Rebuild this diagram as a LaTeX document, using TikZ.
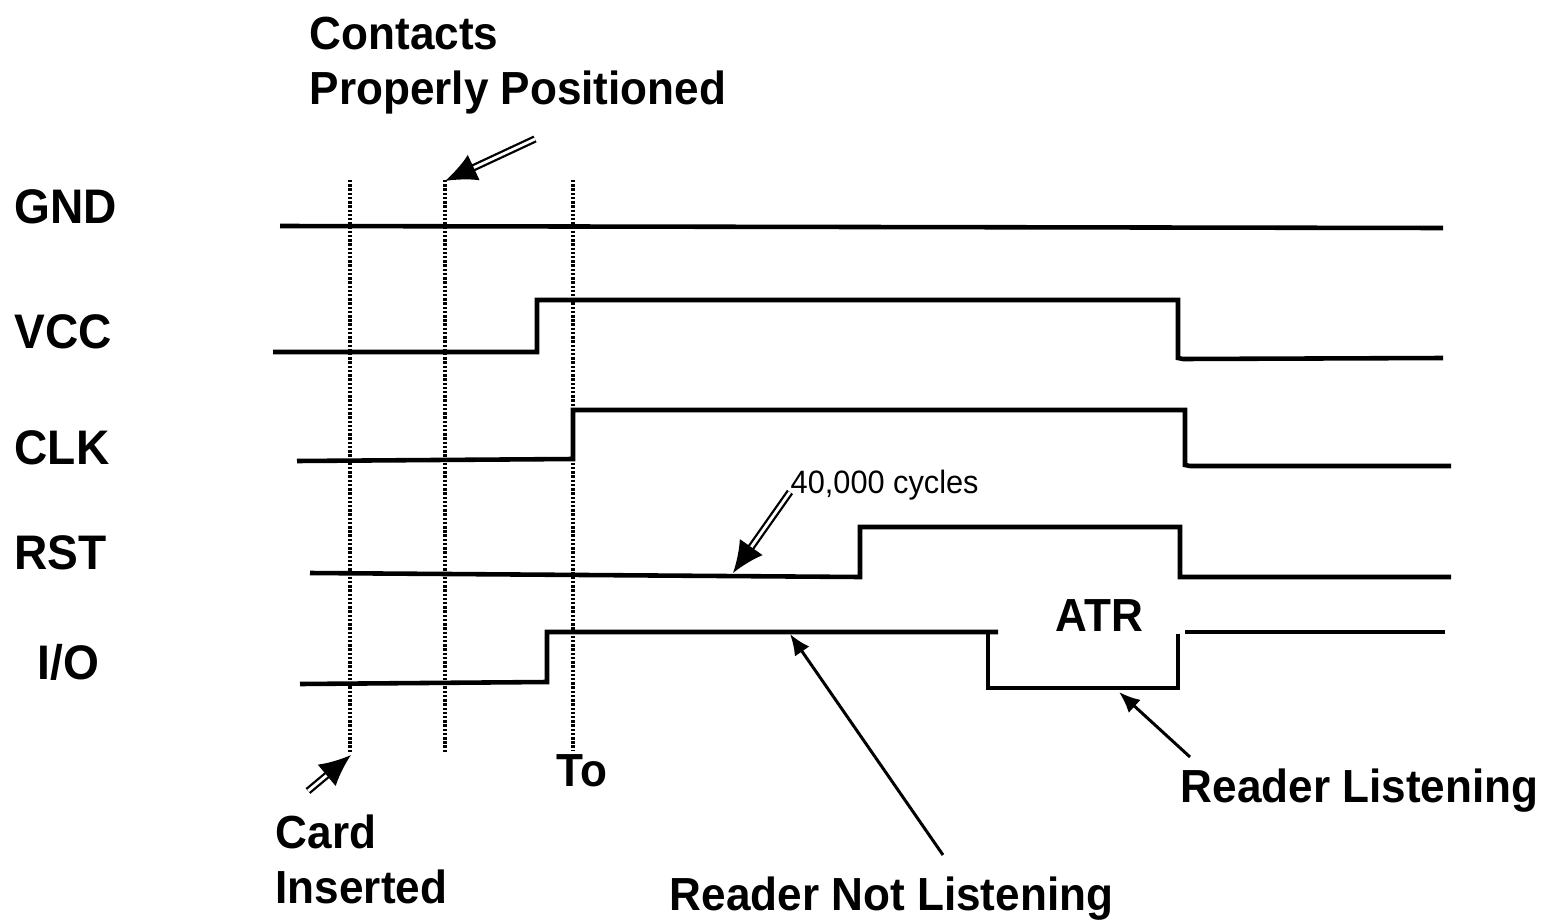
\documentclass[tikz,border=0pt]{standalone}
\usepackage{fontspec}
\setmainfont{Liberation Sans}[FakeStretch=0.95]
\usetikzlibrary{arrows.meta}
\begin{document}
\begin{tikzpicture}[x=0.01cm,y=-0.01cm,
  lbl/.style={anchor=base west,inner sep=0pt,font=\fontsize{13.2}{15}\selectfont\bfseries},
  sig/.style={lbl,font=\fontsize{13.8}{16}\selectfont\bfseries},
  small/.style={anchor=base west,inner sep=0pt,font=\fontsize{9.2}{11}\selectfont},
  wave/.style={line width=1.3pt,line join=miter,line cap=butt},
  marker/.style={line width=1.1pt,dash pattern=on 0.7pt off 0.5pt},
  hollowarrow/.style={double,double distance=0.8pt,line width=0.65pt,
    -{Latex[length=9pt,width=8pt]}},
  thinarrow/.style={line width=0.85pt,-{Latex[length=6pt,width=5pt]}}]
\useasboundingbox (0,0) rectangle (1545,921);

% signal names
\node[sig] (gnd) at (14,223) {GND};
\node[sig] (vcc) at (14,348) {VCC};
\node[sig] (clk) at (14,464) {CLK};
\node[sig] (rst) at (14,569) {RST};
\node[sig] (io)  at (37,679) {I/O};

% event markers
\draw[marker] (350,180) -- (350,753);
\draw[marker] (445,180) -- (445,753);
\draw[marker] (573,180) -- (573,750);

% waveforms
\draw[wave] (280,226) -- (1443,228);
\draw[wave] (273,352) -- (537,352) -- (537,300) -- (1178,300) -- (1178,358) -- (1183,359) -- (1443,358);
\draw[wave] (297,461) -- (573,459) -- (573,410) -- (1185,410) -- (1185,465) -- (1190,466) -- (1451,466);
\draw[wave] (310,573) -- (860,577) -- (860,527) -- (1180,527) -- (1180,577) -- (1451,577);
\draw[wave] (300,684) -- (547,682) -- (547,632) -- (998,632);
\draw[wave] (988,630) -- (988,688) -- (1178,688) -- (1178,634);
\draw[wave] (1185,632) -- (1445,632);

% annotations
\node[lbl] (cp1) at (309,50) {Contacts};
\node[lbl] (cp2) at (309,104) {Properly Positioned};
\node[small] (cyc) at (790,493) {40,000 cycles};
\node[lbl] (atr) at (1055,631) {ATR};
\node[lbl] (to) at (556,786) {To};
\node[lbl] (ci1) at (275,848) {Card};
\node[lbl] (ci2) at (275,903) {Inserted};
\node[lbl] (rnl) at (669,910) {Reader Not Listening};
\node[lbl] (rl) at (1180,802) {Reader Listening};

\coordinate (cpTail) at (535,139);
\coordinate (cpTip) at (445,181);
\coordinate (cycTail) at (790,492);
\coordinate (cycTip) at (733,573);
\coordinate (ciTail) at (308,791);
\coordinate (ciTip) at (351,755);
\coordinate (rnlTail) at (943,855);
\coordinate (rnlTip) at (790,634);
\coordinate (rlTail) at (1190,757);
\coordinate (rlTip) at (1119,692);

\draw[hollowarrow] (cpTail) -- (cpTip);
\draw[hollowarrow] (cycTail) -- (cycTip);
\draw[hollowarrow] (ciTail) -- (ciTip);
\draw[thinarrow] (rnlTail) -- (rnlTip);
\draw[thinarrow] (rlTail) -- (rlTip);
\end{tikzpicture}
\end{document}
